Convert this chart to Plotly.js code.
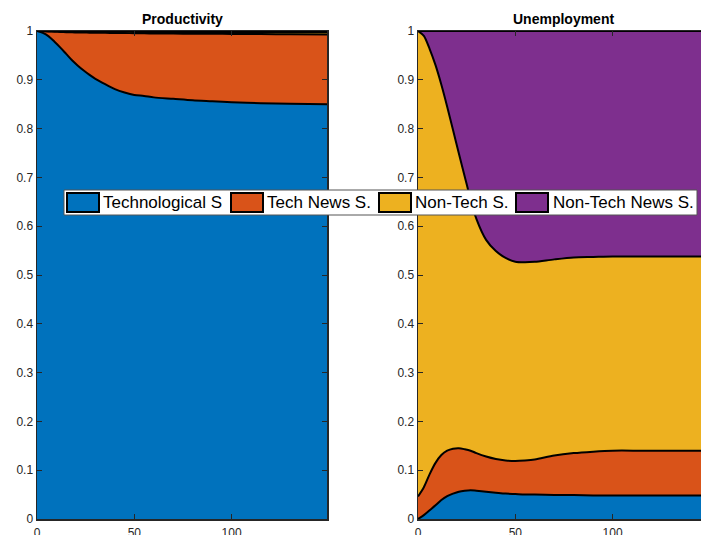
<!DOCTYPE html>
<html><head><meta charset="utf-8">
<script src="https://cdn.plot.ly/plotly-3.0.1.min.js"></script>
<style>html,body{margin:0;padding:0;overflow:hidden;background:#fff}</style>
</head><body><div id="chart"></div>
<script>
// ---- data ----
const periods = [0,3,6,9,12,15,18,21,24,27,30,35,40,45,50,55,60,70,80,90,100,115,130,149];
const seriesNames = ['Technological S','Tech News S.','Non-Tech S.','Non-Tech News S.'];
const seriesColors = ['#0072BD','#D95319','#EDB120','#7E2F8E'];
const panelTitles = ['Productivity','Unemployment'];
const yTickVals = [0,0.1,0.2,0.3,0.4,0.5,0.6,0.7,0.8,0.9,1];
const xTickVals = [0,50,100];

// Productivity variance shares
const prodTech        = [1.000,0.996,0.989,0.978,0.966,0.953,0.940,0.929,0.919,0.910,0.902,0.891,0.881,0.874,0.869,0.867,0.864,0.861,0.858,0.856,0.854,0.852,0.851,0.850];
const prodTechNews    = [0.000,0.0035,0.010,0.0205,0.032,0.0445,0.0572,0.068,0.0778,0.0866,0.0945,0.1053,0.115,0.1218,0.1265,0.1283,0.131,0.1337,0.1365,0.1383,0.140,0.1417,0.1424,0.143];
const prodNonTech     = [0,0.0003,0.0006,0.0009,0.0012,0.0015,0.0017,0.0018,0.0019,0.002,0.0021,0.0022,0.0024,0.0025,0.0027,0.0028,0.003,0.0032,0.0033,0.0034,0.0036,0.0038,0.004,0.0042];
const prodNonTechNews = [0,0.0002,0.0004,0.0006,0.0008,0.001,0.0011,0.0012,0.0013,0.0014,0.0014,0.0015,0.0016,0.0017,0.0018,0.0019,0.002,0.0021,0.0022,0.0023,0.0024,0.0025,0.0026,0.0028];

// Unemployment variance shares
const unempTech        = [0,0.008,0.018,0.028,0.039,0.047,0.052,0.056,0.058,0.059,0.058,0.056,0.054,0.052,0.051,0.050,0.050,0.049,0.049,0.048,0.048,0.048,0.048,0.048];
const unempTechNews    = [0.046,0.057,0.074,0.087,0.092,0.093,0.092,0.089,0.085,0.081,0.077,0.072,0.069,0.068,0.068,0.070,0.072,0.081,0.086,0.090,0.092,0.092,0.092,0.092];
const unempNonTech     = [0.954,0.925,0.871,0.815,0.759,0.705,0.653,0.604,0.559,0.515,0.480,0.444,0.426,0.415,0.408,0.406,0.405,0.402,0.401,0.399,0.398,0.398,0.398,0.398];
const unempNonTechNews = [0,0.010,0.037,0.070,0.110,0.155,0.203,0.251,0.298,0.345,0.385,0.428,0.451,0.465,0.473,0.474,0.473,0.468,0.464,0.463,0.462,0.462,0.462,0.462];

// ---- layout geometry ----
const W = 720, H = 535;
const M = {l:37, r:12, t:31, b:16};
const plotW = W - M.l - M.r, plotH = H - M.t - M.b;
const px2x = p => (p - M.l) / plotW;
const px2y = p => (H - M.b - p) / plotH;
const FONT = 'Liberation Sans, Arial, Helvetica, sans-serif';

const prodSeries = [prodTech, prodTechNews, prodNonTech, prodNonTechNews];
const unempSeries = [unempTech, unempTechNews, unempNonTech, unempNonTechNews];

const traces = [];
function addPanel(series, xa, ya, group) {
  series.forEach((vals, i) => {
    traces.push({
      type: 'scatter', mode: 'lines', x: periods, y: vals,
      name: seriesNames[i], stackgroup: group, xaxis: xa, yaxis: ya,
      fillcolor: seriesColors[i],
      line: {color: '#000', width: 2, shape: 'spline', smoothing: 0.8},
      showlegend: false, hoverinfo: 'skip'
    });
  });
}
addPanel(prodSeries, 'x', 'y', 'prod');
addPanel(unempSeries, 'x2', 'y2', 'unemp');

const axisCommon = {
  showline: true, mirror: 'allticks', linecolor: '#262626', linewidth: 1.5,
  ticks: 'inside', ticklen: 5, tickcolor: '#262626', tickwidth: 1,
  showgrid: false, zeroline: false,
  tickfont: {family: FONT, size: 12, color: '#262626'}
};
const xAxisBase = Object.assign({}, axisCommon, {range: [0,149], tickvals: xTickVals, ticklabelstandoff: 2});
const yAxisBase = Object.assign({}, axisCommon, {range: [0,1], tickvals: yTickVals, ticklabelstandoff: 0});

const leftDom = [0, 290/plotW];
const rightDom = [px2x(418), 1];

// manual legend (MATLAB style)
const legendIconLeft = [67, 231, 379, 516];
const legendTextLeft = [101, 265, 413, 551];
const shapes = [{
  type: 'rect', xref: 'paper', yref: 'paper',
  x0: px2x(64), x1: px2x(697), y0: px2y(215), y1: px2y(190),
  fillcolor: '#fff', line: {color: '#555', width: 1}, layer: 'above'
}];
const annotations = [];
seriesNames.forEach((nm, i) => {
  shapes.push({
    type: 'rect', xref: 'paper', yref: 'paper',
    x0: px2x(legendIconLeft[i]), x1: px2x(legendIconLeft[i] + 32),
    y0: px2y(212), y1: px2y(193),
    fillcolor: seriesColors[i], line: {color: '#000', width: 2}, layer: 'above'
  });
  annotations.push({
    xref: 'paper', yref: 'paper', x: px2x(legendTextLeft[i]), y: px2y(202.5),
    xanchor: 'left', yanchor: 'middle', showarrow: false, text: nm,
    font: {family: FONT, size: 17, color: '#000'}
  });
});
panelTitles.forEach((t, i) => {
  const dom = i === 0 ? leftDom : rightDom;
  annotations.push({
    xref: 'paper', yref: 'paper', x: (dom[0] + dom[1]) / 2, y: px2y(19),
    xanchor: 'center', yanchor: 'middle', showarrow: false, text: '<b>' + t + '</b>',
    font: {family: FONT, size: 14, color: '#000'}
  });
});

const layout = {
  width: W, height: H, margin: M,
  paper_bgcolor: '#fff', plot_bgcolor: '#fff',
  showlegend: false,
  xaxis: Object.assign({}, xAxisBase, {domain: leftDom, anchor: 'y'}),
  yaxis: Object.assign({}, yAxisBase, {domain: [0,1], anchor: 'x'}),
  xaxis2: Object.assign({}, xAxisBase, {domain: rightDom, anchor: 'y2'}),
  yaxis2: Object.assign({}, yAxisBase, {domain: [0,1], anchor: 'x2'}),
  shapes: shapes, annotations: annotations
};

Plotly.newPlot('chart', traces, layout, {staticPlot: true, displayModeBar: false});
</script></body></html>
